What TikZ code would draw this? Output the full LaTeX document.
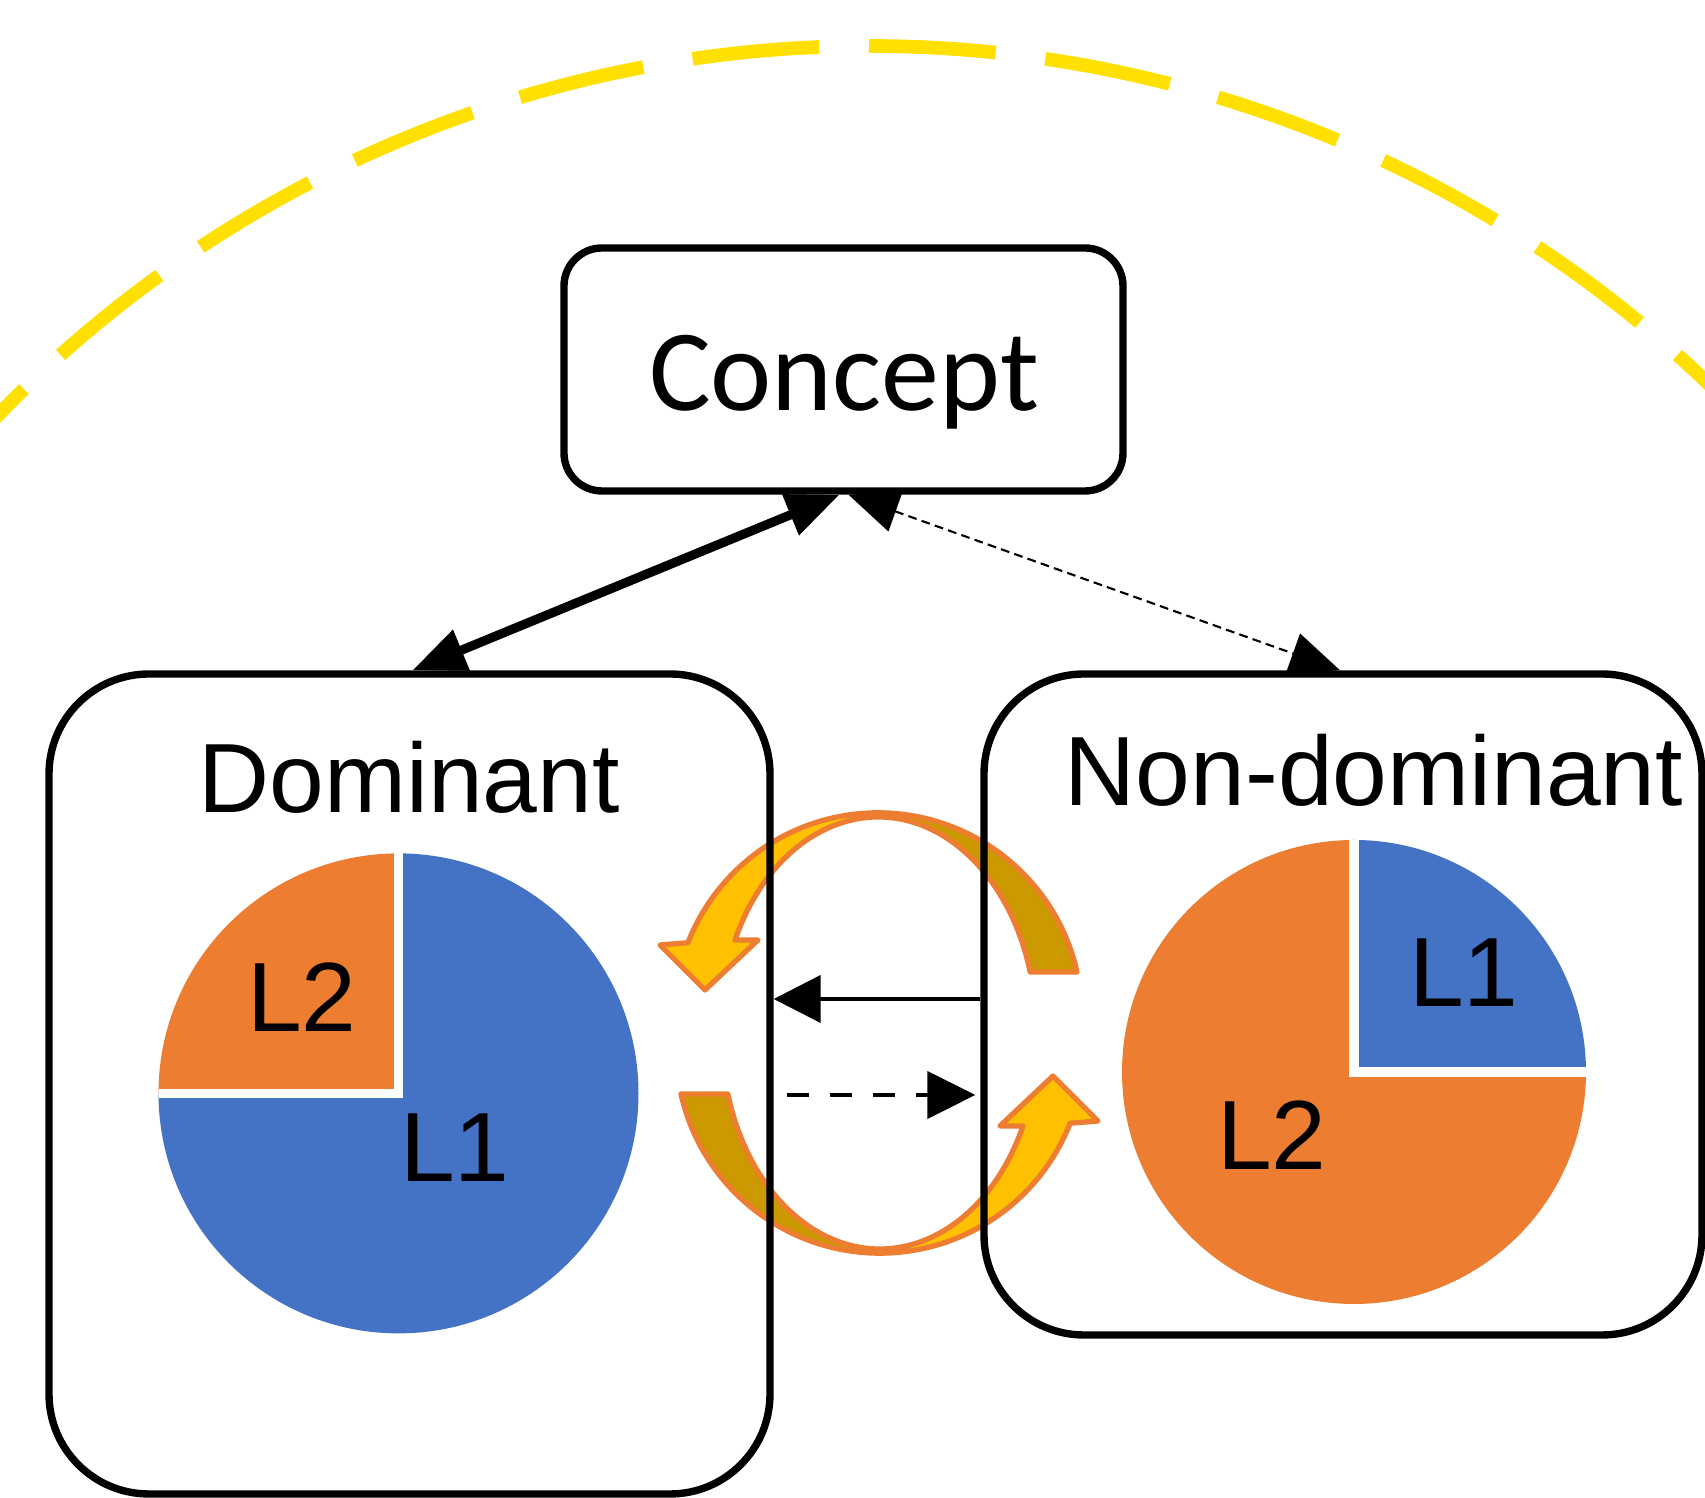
\documentclass[tikz,border=0pt]{standalone}
\usepackage{fontspec}
\setmainfont{Liberation Sans}
\newfontfamily\calibrifont{Carlito}
\usetikzlibrary{arrows.meta}

\definecolor{pieblue}{RGB}{68,114,196}
\definecolor{pieorange}{RGB}{237,125,49}
\definecolor{haloyellow}{RGB}{255,224,0}
\definecolor{ringgold}{RGB}{204,153,0}
\definecolor{ringyellow}{RGB}{255,192,0}

% one half of the exchange ring (upper one, turning left)
\newcommand{\halfring}{%
	\fill[ringgold] (10.77,5.26) arc[start angle=12.7, end angle=90, radius=2.04]
		-- (8.78,6.81) arc[start angle=90, end angle=15.8, x radius=1.58, y radius=2.13] -- cycle;
	\fill[ringyellow] (8.78,6.85) arc[start angle=90, end angle=158.7, radius=2.04]
		-- (6.60,5.53) -- (7.05,5.08) -- (7.58,5.58) -- (7.35,5.58)
		arc[start angle=155, end angle=90, x radius=1.58, y radius=2.13] -- cycle;
	\draw[ringline] (10.77,5.26) arc[start angle=12.7, end angle=158.7, radius=2.04]
		-- (6.60,5.53) -- (7.05,5.08) -- (7.58,5.58) -- (7.35,5.58)
		arc[start angle=155, end angle=15.8, x radius=1.58, y radius=2.13] -- cycle;
}

\begin{document}
\begin{tikzpicture}[font=\fontsize{28}{33}\selectfont,
		roundbox/.style={draw, line width=2.1pt, rounded corners=1cm},
		lbl/.style={anchor=base, inner sep=0pt},
		halo/.style={haloyellow, line width=3.9pt, dash pattern=on 1.27cm off 0.50cm},
		ringline/.style={pieorange, line width=1.5pt, line join=round},
		bigarrow/.style={line width=2.6pt, {Triangle[length=5.3mm,width=4.2mm]}-{Triangle[length=5.3mm,width=4.2mm]}},
		hintarrow/.style={line width=0.6pt, dash pattern=on 2.5pt off 1.5pt, {Triangle[length=5mm,width=4.2mm]}-{Triangle[length=5mm,width=4.2mm]}},
		flowarrow/.style={line width=1.2pt, -{Triangle[length=4.7mm,width=4.7mm]}},
		dashflow/.style={line width=1.2pt, dash pattern=on 0.22cm off 0.21cm, -{Triangle[length=4.8mm,width=4.7mm]}}]
	\useasboundingbox (0,0) rectangle (17.05,14.98);

	\draw[halo] (8.69,14.52) arc[start angle=90, end angle=-10, radius=12.12];
	\draw[halo, dash phase=1.27cm] (8.69,14.52) arc[start angle=90, end angle=190, radius=12.12];

	\halfring
	\begin{scope}[rotate around={180:(8.79,4.65)}]
		\halfring
	\end{scope}

	\node[roundbox, rounded corners=0.38cm, minimum width=5.59cm, minimum height=2.43cm] (con) at (8.435,11.285) {};
	\node[roundbox, minimum width=7.21cm, minimum height=8.20cm] (dom) at (4.095,4.14) {};
	\node[roundbox, minimum width=7.18cm, minimum height=6.61cm] (nd) at (13.43,4.935) {};

	\node[lbl, font=\fontsize{33}{38}\calibrifont] (contxt) at (8.44,10.87) {Concept};
	\node[lbl] (domtxt) at (4.09,6.85) {Dominant};
	\node[lbl] (ndtxt) at (13.74,6.92) {Non-dominant};

	% pies
	\coordinate (pd) at (3.985,4.046);
	\fill[pieblue] (pd) -- ++(180:2.40) arc[start angle=180, end angle=450, radius=2.40] -- cycle;
	\fill[pieorange] (pd) -- ++(90:2.40) arc[start angle=90, end angle=180, radius=2.40] -- cycle;
	\draw[white, line width=2.6pt] (pd) ++(0,2.40) -- (pd) -- ++(-2.40,0);
	\coordinate (pn) at (13.54,4.26);
	\fill[pieorange] (pn) -- ++(90:2.32) arc[start angle=90, end angle=360, radius=2.32] -- cycle;
	\fill[pieblue] (pn) -- ++(0:2.32) arc[start angle=0, end angle=90, radius=2.32] -- cycle;
	\draw[white, line width=2.6pt] (pn) ++(0,2.32) -- (pn) -- ++(2.32,0);

	\node (dl2) at (3.02,5.01) {L2};
	\node (dl1) at (4.55,3.50) {L1};
	\node (nl1) at (14.64,5.25) {L1};
	\node (nl2) at (12.72,3.63) {L2};

	\path ([xshift=-0.4mm]con.south) edge[bigarrow] ([xshift=0.3mm]dom.north)
		([xshift=0.5mm]con.south) edge[hintarrow] ([xshift=-0.3mm]nd.north);

	\coordinate (back) at ([yshift=0.55mm]nd.west);
	\coordinate (fwd) at ([xshift=1.3mm,yshift=-1.1mm]dom.east);
	\path (back) edge[flowarrow] (back -| dom.east)
		(fwd) edge[dashflow, shorten >=0.5mm] (fwd -| nd.west);
\end{tikzpicture}
\end{document}
